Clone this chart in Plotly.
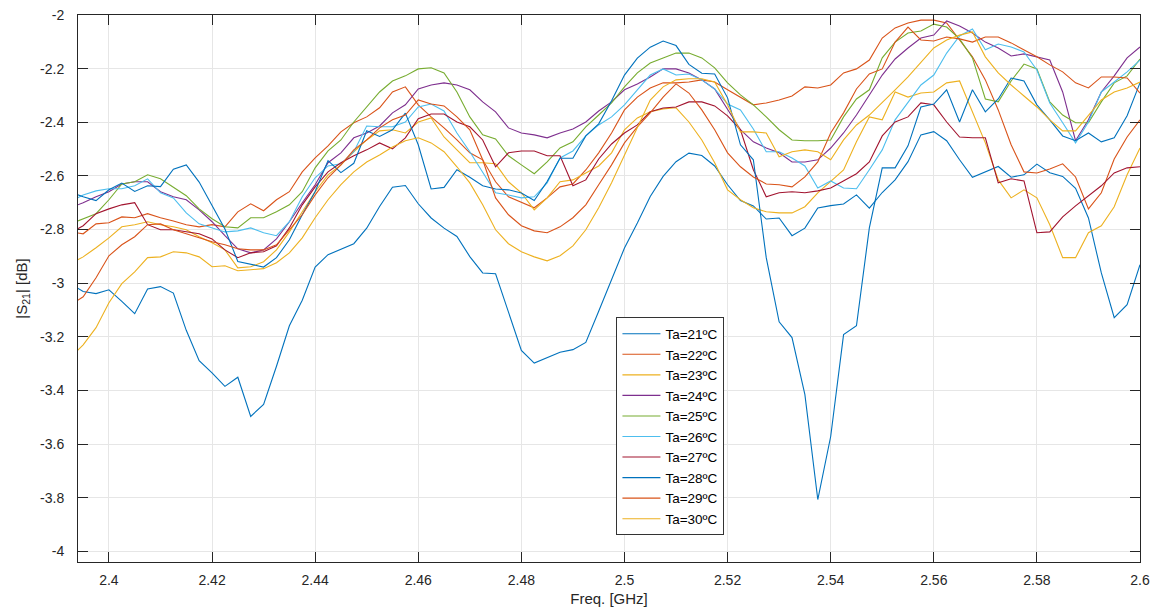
import numpy as np
import plotly.graph_objects as go

# Frequency grid (GHz); first point lies just left of the visible range
freq = np.round(2.3925 + 0.0025 * np.arange(84), 4)

ta21 = [-3.002, -3.031, -3.039, -3.025, -3.068, -3.114, -3.022, -3.013, -3.037, -3.176, -3.289, -3.335, -3.385, -3.351, -3.497, -3.452, -3.310, -3.159, -3.064, -2.940, -2.894, -2.873, -2.853, -2.795, -2.714, -2.642, -2.636, -2.704, -2.757, -2.795, -2.826, -2.901, -2.962, -2.965, -3.111, -3.251, -3.298, -3.277, -3.258, -3.248, -3.221, -3.105, -2.987, -2.869, -2.776, -2.677, -2.602, -2.547, -2.515, -2.524, -2.563, -2.633, -2.692, -2.712, -2.761, -2.757, -2.823, -2.795, -2.720, -2.711, -2.705, -2.671, -2.720, -2.662, -2.615, -2.547, -2.447, -2.435, -2.469, -2.540, -2.605, -2.584, -2.565, -2.605, -2.596, -2.556, -2.588, -2.602, -2.646, -2.757, -2.962, -3.129, -3.080, -2.931]

ta22 = [-2.809, -2.816, -2.779, -2.775, -2.753, -2.756, -2.741, -2.756, -2.768, -2.782, -2.790, -2.782, -2.790, -2.734, -2.704, -2.730, -2.689, -2.659, -2.585, -2.533, -2.488, -2.436, -2.402, -2.380, -2.346, -2.287, -2.268, -2.335, -2.380, -2.421, -2.466, -2.514, -2.540, -2.622, -2.678, -2.700, -2.719, -2.682, -2.641, -2.630, -2.578, -2.514, -2.440, -2.354, -2.306, -2.272, -2.253, -2.253, -2.250, -2.242, -2.250, -2.279, -2.306, -2.335, -2.328, -2.317, -2.302, -2.268, -2.272, -2.261, -2.216, -2.201, -2.168, -2.086, -2.048, -2.030, -2.019, -2.019, -2.030, -2.093, -2.156, -2.242, -2.354, -2.484, -2.585, -2.589, -2.574, -2.555, -2.604, -2.723, -2.663, -2.537, -2.455, -2.391]

ta23 = [-2.928, -2.902, -2.868, -2.831, -2.790, -2.782, -2.771, -2.782, -2.790, -2.801, -2.827, -2.849, -2.876, -2.943, -2.939, -2.920, -2.876, -2.809, -2.734, -2.659, -2.596, -2.559, -2.510, -2.466, -2.432, -2.428, -2.440, -2.399, -2.384, -2.455, -2.503, -2.551, -2.551, -2.555, -2.622, -2.663, -2.727, -2.682, -2.622, -2.615, -2.589, -2.563, -2.514, -2.428, -2.384, -2.361, -2.350, -2.346, -2.399, -2.466, -2.551, -2.652, -2.689, -2.719, -2.734, -2.738, -2.738, -2.715, -2.663, -2.622, -2.578, -2.473, -2.380, -2.391, -2.287, -2.306, -2.291, -2.287, -2.253, -2.246, -2.365, -2.477, -2.615, -2.682, -2.652, -2.682, -2.782, -2.905, -2.905, -2.812, -2.786, -2.715, -2.596, -2.496]

ta24 = [-2.719, -2.700, -2.678, -2.659, -2.630, -2.622, -2.622, -2.659, -2.678, -2.689, -2.727, -2.771, -2.823, -2.872, -2.887, -2.876, -2.835, -2.771, -2.700, -2.633, -2.551, -2.514, -2.458, -2.440, -2.414, -2.365, -2.335, -2.276, -2.261, -2.253, -2.261, -2.279, -2.324, -2.361, -2.421, -2.440, -2.447, -2.458, -2.440, -2.425, -2.399, -2.358, -2.324, -2.279, -2.257, -2.231, -2.201, -2.201, -2.216, -2.242, -2.276, -2.354, -2.428, -2.473, -2.496, -2.514, -2.548, -2.548, -2.540, -2.496, -2.440, -2.373, -2.298, -2.224, -2.164, -2.123, -2.086, -2.075, -2.022, -2.041, -2.067, -2.101, -2.123, -2.153, -2.145, -2.156, -2.168, -2.287, -2.469, -2.391, -2.287, -2.227, -2.160, -2.119]

ta25 = [-2.779, -2.760, -2.741, -2.689, -2.630, -2.622, -2.596, -2.611, -2.641, -2.674, -2.723, -2.760, -2.790, -2.794, -2.756, -2.756, -2.734, -2.708, -2.659, -2.570, -2.507, -2.466, -2.399, -2.343, -2.287, -2.246, -2.227, -2.201, -2.197, -2.216, -2.287, -2.380, -2.447, -2.462, -2.525, -2.559, -2.592, -2.548, -2.496, -2.473, -2.417, -2.373, -2.328, -2.268, -2.216, -2.179, -2.160, -2.142, -2.142, -2.160, -2.197, -2.253, -2.298, -2.335, -2.380, -2.428, -2.466, -2.469, -2.469, -2.466, -2.380, -2.313, -2.279, -2.160, -2.101, -2.067, -2.060, -2.034, -2.045, -2.089, -2.160, -2.313, -2.324, -2.246, -2.183, -2.201, -2.324, -2.373, -2.402, -2.402, -2.324, -2.253, -2.227, -2.164]

ta26 = [-2.697, -2.671, -2.656, -2.648, -2.648, -2.637, -2.611, -2.663, -2.682, -2.738, -2.779, -2.794, -2.809, -2.805, -2.794, -2.812, -2.823, -2.771, -2.678, -2.607, -2.563, -2.555, -2.510, -2.414, -2.417, -2.417, -2.399, -2.343, -2.332, -2.358, -2.440, -2.510, -2.589, -2.663, -2.671, -2.682, -2.678, -2.626, -2.533, -2.507, -2.451, -2.410, -2.380, -2.335, -2.279, -2.224, -2.201, -2.224, -2.220, -2.242, -2.276, -2.332, -2.354, -2.425, -2.510, -2.510, -2.533, -2.563, -2.645, -2.619, -2.645, -2.648, -2.577, -2.503, -2.391, -2.324, -2.261, -2.224, -2.142, -2.078, -2.052, -2.130, -2.108, -2.119, -2.138, -2.205, -2.328, -2.402, -2.477, -2.399, -2.287, -2.250, -2.212, -2.168]

ta27 = [-2.812, -2.786, -2.741, -2.723, -2.708, -2.700, -2.782, -2.801, -2.801, -2.809, -2.816, -2.835, -2.876, -2.905, -2.887, -2.883, -2.861, -2.794, -2.708, -2.641, -2.585, -2.551, -2.525, -2.503, -2.477, -2.499, -2.458, -2.387, -2.369, -2.369, -2.399, -2.417, -2.466, -2.566, -2.514, -2.507, -2.507, -2.525, -2.525, -2.637, -2.615, -2.537, -2.481, -2.440, -2.410, -2.361, -2.347, -2.343, -2.324, -2.324, -2.339, -2.376, -2.428, -2.577, -2.678, -2.663, -2.659, -2.663, -2.656, -2.645, -2.619, -2.592, -2.548, -2.451, -2.399, -2.380, -2.328, -2.335, -2.399, -2.455, -2.458, -2.458, -2.626, -2.611, -2.619, -2.812, -2.809, -2.753, -2.712, -2.674, -2.637, -2.589, -2.570, -2.566]

ta28 = [-2.660, -2.678, -2.692, -2.652, -2.627, -2.658, -2.637, -2.640, -2.575, -2.559, -2.623, -2.708, -2.798, -2.919, -2.929, -2.940, -2.905, -2.838, -2.745, -2.658, -2.543, -2.588, -2.553, -2.432, -2.453, -2.428, -2.366, -2.484, -2.649, -2.643, -2.577, -2.605, -2.637, -2.649, -2.652, -2.664, -2.692, -2.621, -2.534, -2.534, -2.451, -2.406, -2.320, -2.224, -2.161, -2.120, -2.097, -2.114, -2.184, -2.217, -2.220, -2.309, -2.484, -2.540, -2.905, -3.144, -3.203, -3.416, -3.807, -3.572, -3.192, -3.159, -2.794, -2.570, -2.570, -2.488, -2.343, -2.332, -2.279, -2.399, -2.279, -2.361, -2.313, -2.235, -2.246, -2.335, -2.391, -2.451, -2.469, -2.440, -2.473, -2.458, -2.376, -2.253]

ta29 = [-3.081, -3.051, -2.980, -2.898, -2.857, -2.827, -2.782, -2.779, -2.801, -2.816, -2.831, -2.846, -2.857, -2.872, -2.876, -2.876, -2.857, -2.801, -2.745, -2.671, -2.607, -2.559, -2.503, -2.466, -2.421, -2.391, -2.373, -2.317, -2.332, -2.339, -2.380, -2.428, -2.540, -2.682, -2.745, -2.786, -2.805, -2.812, -2.790, -2.756, -2.708, -2.633, -2.559, -2.477, -2.417, -2.365, -2.306, -2.257, -2.291, -2.354, -2.428, -2.514, -2.566, -2.604, -2.630, -2.633, -2.641, -2.604, -2.548, -2.440, -2.365, -2.276, -2.220, -2.201, -2.101, -2.045, -2.093, -2.097, -2.082, -2.089, -2.101, -2.082, -2.082, -2.104, -2.130, -2.156, -2.186, -2.212, -2.253, -2.272, -2.231, -2.231, -2.235, -2.291]

ta30 = [-3.278, -3.230, -3.166, -3.073, -3.002, -2.958, -2.905, -2.902, -2.883, -2.887, -2.902, -2.939, -2.935, -2.954, -2.950, -2.946, -2.924, -2.887, -2.831, -2.756, -2.689, -2.633, -2.585, -2.548, -2.522, -2.492, -2.469, -2.458, -2.477, -2.510, -2.566, -2.626, -2.708, -2.801, -2.853, -2.883, -2.902, -2.917, -2.898, -2.861, -2.801, -2.719, -2.626, -2.522, -2.417, -2.317, -2.268, -2.242, -2.238, -2.238, -2.250, -2.335, -2.436, -2.436, -2.440, -2.529, -2.510, -2.503, -2.510, -2.540, -2.466, -2.410, -2.373, -2.324, -2.279, -2.231, -2.175, -2.123, -2.093, -2.075, -2.063, -2.156, -2.216, -2.261, -2.302, -2.343, -2.391, -2.432, -2.432, -2.376, -2.317, -2.287, -2.272, -2.250]

labels = ["Ta=21ºC", "Ta=22ºC", "Ta=23ºC", "Ta=24ºC", "Ta=25ºC",
          "Ta=26ºC", "Ta=27ºC", "Ta=28ºC", "Ta=29ºC", "Ta=30ºC"]
series = [ta21, ta22, ta23, ta24, ta25, ta26, ta27, ta28, ta29, ta30]
colors = ["#0072BD", "#D95319", "#EDB120", "#7E2F8E", "#77AC30",
          "#4DBEEE", "#A2142F", "#0072BD", "#D95319", "#EDB120"]

x_ticks = [2.40, 2.42, 2.44, 2.46, 2.48, 2.50, 2.52, 2.54, 2.56, 2.58, 2.60]
x_ticktext = ["2.4", "2.42", "2.44", "2.46", "2.48", "2.5", "2.52", "2.54", "2.56", "2.58", "2.6"]
y_ticks = [-4.0, -3.8, -3.6, -3.4, -3.2, -3.0, -2.8, -2.6, -2.4, -2.2, -2.0]
y_ticktext = ["-4", "-3.8", "-3.6", "-3.4", "-3.2", "-3", "-2.8", "-2.6", "-2.4", "-2.2", "-2"]

fig = go.Figure()
for name, vals, col in zip(labels, series, colors):
    fig.add_trace(go.Scatter(x=freq, y=vals, mode="lines", name=name,
                             line=dict(color=col, width=1.1)))

axis_common = dict(
    ticks="inside", ticklen=10, tickwidth=1, tickcolor="#262626",
    showline=True, linecolor="#262626", linewidth=1, mirror="ticks",
    showgrid=True, gridcolor="#e6e6e6", gridwidth=1, zeroline=False,
    tickfont=dict(size=14, color="#262626"), automargin=False,
)

fig.update_layout(
    width=1158, height=610,
    margin=dict(l=78, r=18, t=15, b=48),
    paper_bgcolor="white", plot_bgcolor="white",
    font=dict(family="Liberation Sans, Arial, sans-serif", size=14, color="#262626"),
    showlegend=True,
    legend=dict(x=0.507, y=0.447, xanchor="left", yanchor="top",
                bgcolor="white", bordercolor="#333333", borderwidth=1,
                font=dict(size=13.5, color="#000000"), tracegroupgap=0,
                itemwidth=38),
    xaxis=dict(range=[2.394, 2.6], tickvals=x_ticks, ticktext=x_ticktext,
               ticklabelstandoff=5,
               title=dict(text="Freq. [GHz]", font=dict(size=15, color="#262626"), standoff=6),
               **axis_common),
    yaxis=dict(range=[-4.04, -2.0], tickvals=y_ticks, ticktext=y_ticktext,
               ticklabelstandoff=10,
               title=dict(text="|S<sub>21</sub>| [dB]", font=dict(size=15, color="#262626"), standoff=8),
               **axis_common),
)

fig.write_html("out.html")
